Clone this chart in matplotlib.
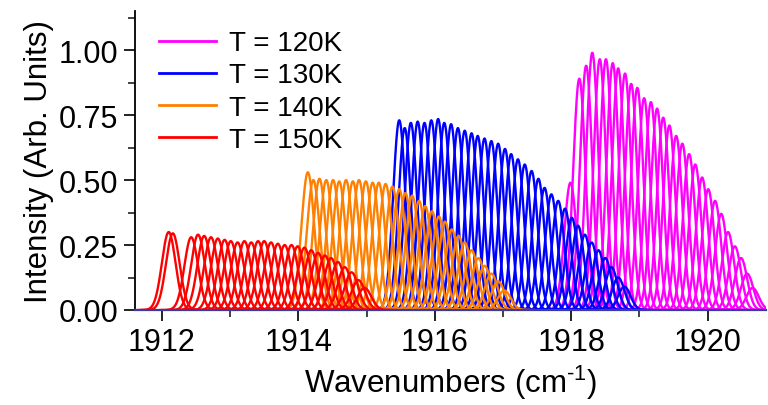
import numpy as np
import matplotlib
matplotlib.use("Agg")
import matplotlib.pyplot as plt
from matplotlib.ticker import MultipleLocator

plt.rcParams['font.family'] = ['Liberation Sans', 'DejaVu Sans']
plt.rcParams['mathtext.fontset'] = 'custom'
plt.rcParams['mathtext.rm'] = 'Liberation Sans'

# peak centres (cm-1) and heights, one list per temperature
labels = ['T = 120K', 'T = 130K', 'T = 140K', 'T = 150K']
colors = ['#FF00FF', '#0000FF', '#FF8000', '#FF0000']
widths = [0.09, 0.09, 0.095, 0.1]  # line width (sigma) of one scan, cm-1

centers_120 = [1917.99, 1918.12, 1918.22, 1918.31, 1918.42, 1918.51, 1918.61,
               1918.69, 1918.79, 1918.88, 1918.97, 1919.07, 1919.17, 1919.26,
               1919.35, 1919.44, 1919.54, 1919.63, 1919.73, 1919.82, 1919.92,
               1920.01, 1920.11, 1920.20, 1920.30, 1920.40, 1920.49, 1920.58,
               1920.66]
heights_120 = [0.49, 0.89, 0.94, 0.99, 0.965, 0.965, 0.95,
               0.93, 0.91, 0.87, 0.855, 0.815, 0.80, 0.775,
               0.74, 0.71, 0.67, 0.64, 0.60, 0.56, 0.51,
               0.465, 0.42, 0.37, 0.30, 0.245, 0.20, 0.14,
               0.085]

centers_130 = [1915.48, 1915.56, 1915.65, 1915.75, 1915.85, 1915.95, 1916.05,
               1916.14, 1916.24, 1916.34, 1916.44, 1916.54, 1916.63, 1916.73,
               1916.83, 1916.93, 1917.03, 1917.12, 1917.22, 1917.32, 1917.42,
               1917.52, 1917.61, 1917.71, 1917.81, 1917.91, 1918.01, 1918.10,
               1918.20, 1918.30, 1918.40, 1918.50, 1918.59, 1918.69, 1918.78]
heights_130 = [0.73, 0.70, 0.72, 0.725, 0.72, 0.73, 0.735,
               0.72, 0.715, 0.70, 0.69, 0.68, 0.67, 0.66,
               0.65, 0.64, 0.62, 0.60, 0.58, 0.56, 0.535,
               0.505, 0.47, 0.445, 0.42, 0.39, 0.355, 0.325,
               0.29, 0.26, 0.23, 0.20, 0.165, 0.125, 0.09]

centers_140 = [1914.14, 1914.22, 1914.31, 1914.41, 1914.51, 1914.60, 1914.70,
               1914.80, 1914.89, 1914.99, 1915.09, 1915.18, 1915.28, 1915.38,
               1915.48, 1915.57, 1915.67, 1915.77, 1915.86, 1915.96, 1916.06,
               1916.15, 1916.25, 1916.35, 1916.44, 1916.54, 1916.64, 1916.73,
               1916.83, 1916.93, 1917.02]
heights_140 = [0.53, 0.50, 0.505, 0.50, 0.50, 0.495, 0.50,
               0.495, 0.50, 0.495, 0.49, 0.49, 0.485, 0.475,
               0.465, 0.45, 0.44, 0.42, 0.40, 0.38, 0.36,
               0.34, 0.31, 0.285, 0.26, 0.23, 0.20, 0.17,
               0.14, 0.11, 0.075]

centers_150 = [1912.10, 1912.16, 1912.43, 1912.53, 1912.62, 1912.72, 1912.82,
               1912.92, 1913.01, 1913.11, 1913.21, 1913.31, 1913.41, 1913.50,
               1913.60, 1913.70, 1913.80, 1913.90, 1913.99, 1914.09, 1914.19,
               1914.29, 1914.39, 1914.48, 1914.58, 1914.68, 1914.78, 1914.88,
               1914.97]
heights_150 = [0.30, 0.295, 0.28, 0.29, 0.285, 0.28, 0.275,
               0.27, 0.265, 0.26, 0.265, 0.26, 0.265, 0.265,
               0.26, 0.255, 0.25, 0.25, 0.245, 0.24, 0.23,
               0.22, 0.21, 0.20, 0.185, 0.165, 0.145, 0.115,
               0.085]

all_centers = [centers_120, centers_130, centers_140, centers_150]
all_heights = [heights_120, heights_130, heights_140, heights_150]

fig = plt.figure(figsize=(7.68, 4.06), dpi=100)
ax = fig.add_axes([0.1758, 0.234, 0.821, 0.736])

for lab, col, sig, cs, hs in zip(labels, colors, widths, all_centers, all_heights):
    for i, (c, h) in enumerate(zip(cs, hs)):
        x = np.linspace(c - 4.5 * sig, c + 4.5 * sig, 200)
        y = h * np.exp(-(x - c) ** 2 / (2 * sig ** 2))
        ax.plot(x, y, color=col, lw=1.7, label=lab if i == 0 else None)

ax.set_xlim(1911.606, 1920.85)
ax.set_ylim(0, 1.15)
ax.xaxis.set_major_locator(MultipleLocator(2))
ax.xaxis.set_minor_locator(MultipleLocator(1))
ax.yaxis.set_major_locator(MultipleLocator(0.25))
ax.yaxis.set_minor_locator(MultipleLocator(0.125))
ax.yaxis.set_major_formatter(plt.FormatStrFormatter('%.2f'))

for s in ['top', 'right']:
    ax.spines[s].set_visible(False)
ax.spines['left'].set_linewidth(1.3)
ax.spines['bottom'].set_linewidth(1.6)
ax.spines['bottom'].set_color('#3a3aa0')
ax.spines['bottom'].set_zorder(5)

ax.tick_params(which='major', direction='out', length=8, width=1.4,
               labelsize=22, pad=4, color='#222222')
ax.tick_params(which='minor', direction='out', length=5, width=1.2,
               color='#222222')

ax.set_xlabel('Wavenumbers (cm$^{\\text{-1}}$)', fontsize=22.5, labelpad=4)
ax.set_ylabel('Intensity (Arb. Units)', fontsize=22.5, labelpad=3)

leg = ax.legend(loc='upper left', bbox_to_anchor=(0.02, 0.973), frameon=False,
                fontsize=20, handlelength=2.05, handletextpad=0.47,
                labelspacing=0.22, borderaxespad=0)
for ln in leg.get_lines():
    ln.set_linewidth(2.0)

fig.savefig('out.png', dpi=100)
